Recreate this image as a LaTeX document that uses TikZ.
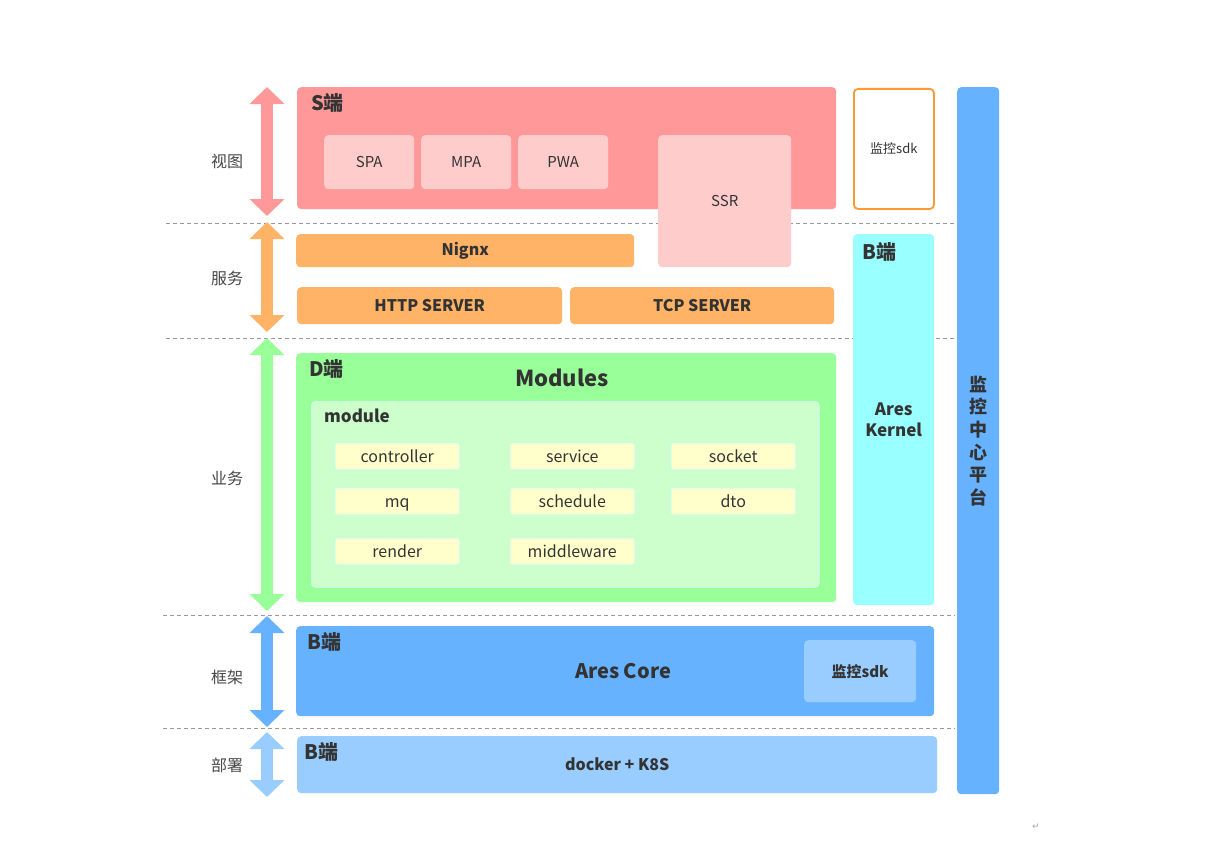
\documentclass[tikz,border=0pt]{standalone}
\usepackage{fontspec}
\setmainfont{Noto Sans CJK SC}
\newfontfamily\symfont{DejaVu Sans}
\usetikzlibrary{arrows.meta,positioning}
\definecolor{spink}{HTML}{FF9999}
\definecolor{lpink}{HTML}{FFCCCC}
\definecolor{sorange}{HTML}{FFB366}
\definecolor{bcyan}{HTML}{99FFFF}
\definecolor{dgreen}{HTML}{99FF99}
\definecolor{lgreen}{HTML}{CCFFCC}
\definecolor{itemyel}{HTML}{FFFFCC}
\definecolor{bblue}{HTML}{66B2FF}
\definecolor{lblue}{HTML}{99CCFF}
\definecolor{sdkborder}{HTML}{FF9933}
\definecolor{txt}{HTML}{333333}
\tikzset{
  blk/.style={anchor=north west,inner sep=0pt,rounded corners=4pt,text=txt,align=center},
  ttl/.style={anchor=north west,inner sep=0pt,text=txt,font=\fontsize{20}{22}\selectfont\bfseries},
  lyr/.style={text=txt!90,font=\fontsize{16}{18}\selectfont},
  sep/.style={draw=gray!80,dash pattern=on 4pt off 3pt,line width=0.8pt},
  span/.style={line width=12pt,{Triangle[width=34pt,length=17pt]}-{Triangle[width=34pt,length=17pt]}},
  item/.style={blk,fill=itemyel,draw=bcyan!40,line width=0.5pt,rounded corners=2pt,minimum width=124pt,minimum height=26pt,text height=13pt,text depth=1pt,font=\fontsize{16}{18}\selectfont},
}
% box: name, style, x, y, width, height, text
\newcommand\blk[7]{\node[blk,#2,minimum width=#5pt,minimum height=#6pt] (#1) at (#3,#4) {#7};}
\begin{document}
\begin{tikzpicture}[x=1pt,y=-1pt]
\useasboundingbox[fill=white] (0,0) rectangle (1205,843);
% layer separators
\foreach \yy/\xx in {223/166,338/166,615/163,728/163}
  \draw[sep] (\xx,\yy) -- (955,\yy);
% layer spans
\coordinate (v0) at (267,87);  \coordinate (v1) at (267,216);
\coordinate (f0) at (267,222); \coordinate (f1) at (267,332);
\coordinate (y0) at (267,338); \coordinate (y1) at (267,611);
\coordinate (k0) at (267,616); \coordinate (k1) at (267,727);
\coordinate (d0) at (267,732); \coordinate (d1) at (267,797);
\draw[span,spink] (v0) -- (v1);
\draw[span,sorange] (f0) -- (f1);
\draw[span,dgreen] (y0) -- (y1);
\draw[span,bblue] (k0) -- (k1);
\draw[span,lblue] (d0) -- (d1);
\node[lyr] (lview) at (227,161) {视图};
\node[lyr] (lserv) at (227,278) {服务};
\node[lyr] (lbiz) at (227,478) {业务};
\node[lyr] (lfrm) at (227,677) {框架};
\node[lyr] (ldep) at (227,765) {部署};
% S端
\blk{send}{fill=spink}{297}{87}{539}{122}{}
\node[ttl] (stitle) at (311,93) {S端};
\blk{spa}{fill=lpink,font=\fontsize{15}{17}\selectfont}{324}{135}{90}{54}{SPA}
\blk{mpa}{fill=lpink,font=\fontsize{15}{17}\selectfont}{421}{135}{90}{54}{MPA}
\blk{pwa}{fill=lpink,font=\fontsize{15}{17}\selectfont}{518}{135}{90}{54}{PWA}
\blk{ssr}{fill=lpink,font=\fontsize{15}{17}\selectfont}{658}{135}{133}{132}{SSR}
\blk{sdka}{fill=white,draw=sdkborder,line width=1.8pt,font=\fontsize{13}{15}\selectfont}{853}{88}{80}{120}{监控sdk}
% 服务
\blk{nginx}{fill=sorange,font=\fontsize{16}{18}\selectfont\bfseries}{296}{234}{338}{33}{Nignx}
\blk{http}{fill=sorange,font=\fontsize{16}{18}\selectfont\bfseries}{297}{287}{265}{37}{HTTP SERVER}
\blk{tcp}{fill=sorange,font=\fontsize{16}{18}\selectfont\bfseries}{570}{287}{264}{37}{TCP SERVER}
% B端 kernel
\blk{kernel}{fill=bcyan,font=\fontsize{17}{21}\selectfont\bfseries}{853}{234}{81}{371}{Ares\\Kernel}
\node[ttl] (ktitle) at (862,242) {B端};
% D端
\blk{dend}{fill=dgreen}{296}{353}{540}{249}{}
\node[ttl] (dtitle) at (309,359) {D端};
\node[text=txt,font=\fontsize{22}{24}\selectfont\bfseries] (mods) at (562,378) {Modules};
\blk{module}{fill=lgreen,draw=bcyan!40,line width=0.5pt}{311}{401}{508}{186}{}
\node[ttl,font=\fontsize{17}{19}\selectfont\bfseries] (mtitle) at (324,409) {module};
\node[item] (ctrl) at (335,443) {controller};
\node[item] (svc) at (510,443) {service};
\node[item] (sock) at (671,443) {socket};
\node[item] (mq) at (335,488) {mq};
\node[item] (sched) at (510,488) {schedule};
\node[item] (dto) at (671,488) {dto};
\node[item] (rend) at (335,538) {render};
\node[item] (mdw) at (510,538) {middleware};
% B端 core
\blk{core}{fill=bblue}{296}{626}{638}{90}{}
\node[ttl] (ctitle) at (307,632) {B端};
\node[text=txt,font=\fontsize{20}{22}\selectfont\bfseries] (corel) at (623,671) {Ares Core};
\blk{sdkb}{fill=lblue,font=\fontsize{15}{17}\selectfont\bfseries}{804}{640}{112}{62}{监控sdk}
% B端 deploy
\blk{deploy}{fill=lblue,font=\fontsize{16}{18}\selectfont\bfseries}{297}{736}{640}{57}{docker + K8S}
\node[ttl] (dptitle) at (304,742) {B端};
% monitor platform
\blk{mon}{fill=bblue,font=\fontsize{18}{22.6}\selectfont\bfseries}{957}{87}{42}{707}{}
\node[text=txt,align=center,font=\fontsize{18}{22.6}\selectfont\bfseries] (monl) at (978,441) {监\\控\\中\\心\\平\\台};
\node[text=gray!70,font=\symfont\fontsize{9}{10}\selectfont] (pmark) at (1036,827) {↵};
\end{tikzpicture}
\end{document}
